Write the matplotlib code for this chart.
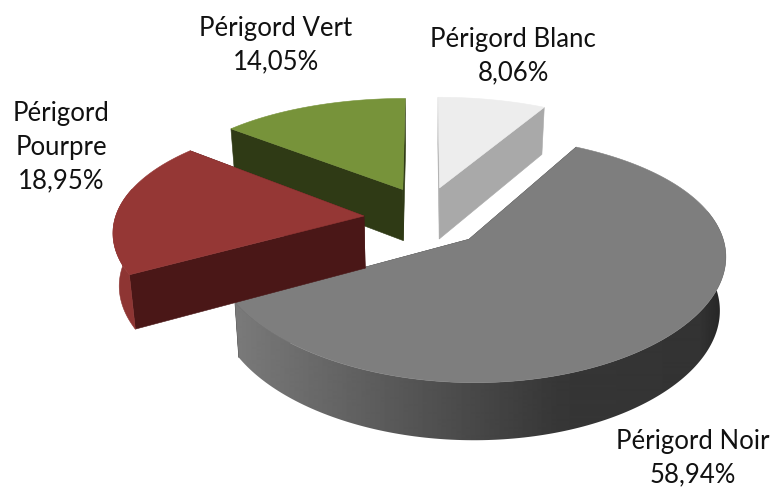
import numpy as np
import matplotlib
matplotlib.use("Agg")
import matplotlib.pyplot as plt
from matplotlib.patches import Polygon

names = ["Périgord Blanc", "Périgord Noir", "Périgord\nPourpre", "Périgord Vert"]
shares = [8.06, 58.94, 18.95, 14.05]
top_colors = ["#EDEDED", "#7E7E7E", "#953735", "#77933A"]
face_colors = ["#A9A9A9", "#333333", "#4A1717", "#2F3A15"]
rim_colors = ["#A9A9A9", None, "#8E3533", "#2F3A15"]
offset_x = [0.056, 0.169, -0.25, -0.096]
offset_y = [0.218, -0.24, -0.04, 0.203]
draw_order = [0, 3, 1, 2]
label_pos = [(513, 56), (693, 458), (61, 147), (276, 45)]

cx, cy, A, B, kx, ky, shrink = 426, 211.5, 247, 111.5, 0.119, 0.155, 0.98

fig = plt.figure(figsize=(7.73, 4.87), dpi=100)
ax = fig.add_axes([0, 0, 1, 1])

def top_pt(X, Y):
    return cx + A * X / (1 + kx * Y), cy - B * Y / (1 + ky * Y)

def bot_pt(X, Y):
    x, y = top_pt(X, Y)
    return cx + (x - cx) * shrink, y + 52 - 4.5 * Y

edges = np.concatenate([[0], np.cumsum(shares)]) / sum(shares) * 2 * np.pi

for rank, i in enumerate(draw_order):
    t0, t1 = edges[i], edges[i + 1]
    ox, oy = offset_x[i], offset_y[i]
    th = np.linspace(t0, t1, 200)
    X = ox + np.sin(th)
    Y = oy + np.cos(th)
    z = rank * 10
    # radial side faces
    for t in (t0, t1):
        ex, ey = ox + np.sin(t), oy + np.cos(t)
        q = [top_pt(ox, oy), top_pt(ex, ey), bot_pt(ex, ey), bot_pt(ox, oy)]
        ax.add_patch(Polygon(q, closed=True, fc=face_colors[i], ec=face_colors[i], lw=0.4, zorder=z + 1))
    # outer rim
    keep = np.cos(th) < 0.25
    if keep.any():
        tops = [top_pt(a, b) for a, b in zip(X[keep], Y[keep])]
        bots = [bot_pt(a, b) for a, b in zip(X[keep], Y[keep])]
        rim = tops + bots[::-1]
        if rim_colors[i] is None:
            clip = Polygon(rim, closed=True, transform=ax.transData)
            xs = np.arange(0, 773)
            grey = np.interp(xs, [235, 560, 700, 728], [0x7A, 0x36, 0x33, 0x22]) / 255
            im = ax.imshow(grey[None, :], cmap="gray", vmin=0, vmax=1, extent=(0, 773, 487, 0),
                           aspect="auto", interpolation="bilinear", zorder=z + 2)
            im.set_clip_path(clip)
        else:
            ax.add_patch(Polygon(rim, closed=True, fc=rim_colors[i], ec=rim_colors[i], lw=0.4, zorder=z + 2))
    # top
    pts = [top_pt(ox, oy)] + [top_pt(a, b) for a, b in zip(X, Y)]
    ax.add_patch(Polygon(pts, closed=True, fc=top_colors[i], ec=top_colors[i], lw=0.4, zorder=z + 3))

ax.set_xlim(0, 773)
ax.set_ylim(487, 0)
ax.axis("off")

for n, s, (lx, ly) in zip(names, shares, label_pos):
    ax.text(lx, ly, f"{n}\n{s:.2f}%".replace(".", ","), ha="center", va="center",
            fontsize=18.5, color="#111111", linespacing=1.42, family=["Lato", "DejaVu Sans"], zorder=100)

fig.savefig("out.png", dpi=100)
